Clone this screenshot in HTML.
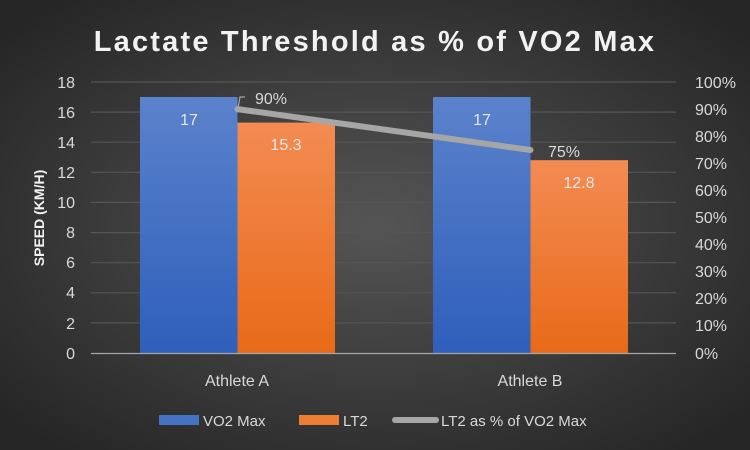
<!DOCTYPE html>
<html><head><meta charset="utf-8"><style>
html,body{margin:0;padding:0;background:#333;}
svg{display:block;font-family:"Liberation Sans",sans-serif;}
</style></head><body>
<svg width="750" height="450" viewBox="0 0 750 450" xmlns="http://www.w3.org/2000/svg">
<defs>
<radialGradient id="bg" cx="50%" cy="50%" r="65%">
<stop offset="0" stop-color="#555"/><stop offset="1" stop-color="#262626"/>
</radialGradient>
<linearGradient id="bl" x1="0" y1="0" x2="0" y2="1"><stop offset="0" stop-color="#5b82cb"/><stop offset="1" stop-color="#2f5fbb"/></linearGradient>
<linearGradient id="or" x1="0" y1="0" x2="0" y2="1"><stop offset="0" stop-color="#f38b52"/><stop offset="1" stop-color="#e86a18"/></linearGradient>
</defs>
<rect width="750" height="450" fill="url(#bg)"/>
<text x="375" y="51" text-anchor="middle" font-size="29" font-weight="bold" fill="#f2f2f2" letter-spacing="2.2">Lactate Threshold as % of VO2 Max</text>
<g stroke="#555" stroke-width="1.2">
<line x1="91" x2="676" y1="82" y2="82"/><line x1="91" x2="676" y1="112.1" y2="112.1"/><line x1="91" x2="676" y1="142.2" y2="142.2"/><line x1="91" x2="676" y1="172.3" y2="172.3"/><line x1="91" x2="676" y1="202.4" y2="202.4"/><line x1="91" x2="676" y1="232.6" y2="232.6"/><line x1="91" x2="676" y1="262.7" y2="262.7"/><line x1="91" x2="676" y1="292.8" y2="292.8"/><line x1="91" x2="676" y1="322.9" y2="322.9"/>
</g>
<g font-size="16" fill="#d9d9d9" text-anchor="end">
<text x="75" y="88">18</text><text x="75" y="118">16</text><text x="75" y="148">14</text><text x="75" y="178">12</text><text x="75" y="208">10</text><text x="75" y="238">8</text><text x="75" y="268">6</text><text x="75" y="298">4</text><text x="75" y="329">2</text><text x="75" y="359">0</text>
</g>
<g font-size="16" fill="#d9d9d9">
<text x="695" y="88">100%</text><text x="695" y="115">90%</text><text x="695" y="142">80%</text><text x="695" y="169">70%</text><text x="695" y="196">60%</text><text x="695" y="223">50%</text><text x="695" y="250">40%</text><text x="695" y="277">30%</text><text x="695" y="304">20%</text><text x="695" y="331">10%</text><text x="695" y="359">0%</text>
</g>
<text transform="translate(44,218) rotate(-90)" text-anchor="middle" font-size="14" font-weight="bold" fill="#f2f2f2">SPEED (KM/H)</text>
<rect x="140" y="97" width="97.5" height="256" fill="url(#bl)"/>
<rect x="237.5" y="122.6" width="97.5" height="230.4" fill="url(#or)"/>
<rect x="433" y="97" width="97.5" height="256" fill="url(#bl)"/>
<rect x="530.5" y="160.2" width="97.5" height="192.8" fill="url(#or)"/>
<line x1="91" x2="676" y1="353.5" y2="353.5" stroke="#a6a6a6" stroke-width="1.2"/>
<g font-size="16" fill="#e6e6e6" text-anchor="middle">
<text x="189" y="125">17</text><text x="286" y="150">15.3</text><text x="482" y="125">17</text><text x="579" y="188">12.8</text>
</g>
<line x1="237.5" y1="109.1" x2="530.5" y2="150" stroke="#a6a6a6" stroke-width="6" stroke-linecap="round"/>
<polyline points="238,108 240,97 245,97" fill="none" stroke="#a6a6a6" stroke-width="1.2"/>
<g font-size="16" fill="#d9d9d9"><text x="255" y="104">90%</text><text x="548" y="157">75%</text></g>
<g font-size="16" fill="#d9d9d9" text-anchor="middle"><text x="237" y="386">Athlete A</text><text x="530" y="386">Athlete B</text></g>
<rect x="159" y="415" width="40" height="10" fill="#4472c4"/>
<text x="203" y="426" font-size="15" fill="#d9d9d9">VO2 Max</text>
<rect x="299" y="415" width="40" height="10" fill="#ed7d31"/>
<text x="343" y="426" font-size="15" fill="#d9d9d9">LT2</text>
<line x1="395" y1="420" x2="436" y2="420" stroke="#a6a6a6" stroke-width="6" stroke-linecap="round"/>
<text x="441" y="426" font-size="15" fill="#d9d9d9">LT2 as % of VO2 Max</text>
</svg>
</body></html>
